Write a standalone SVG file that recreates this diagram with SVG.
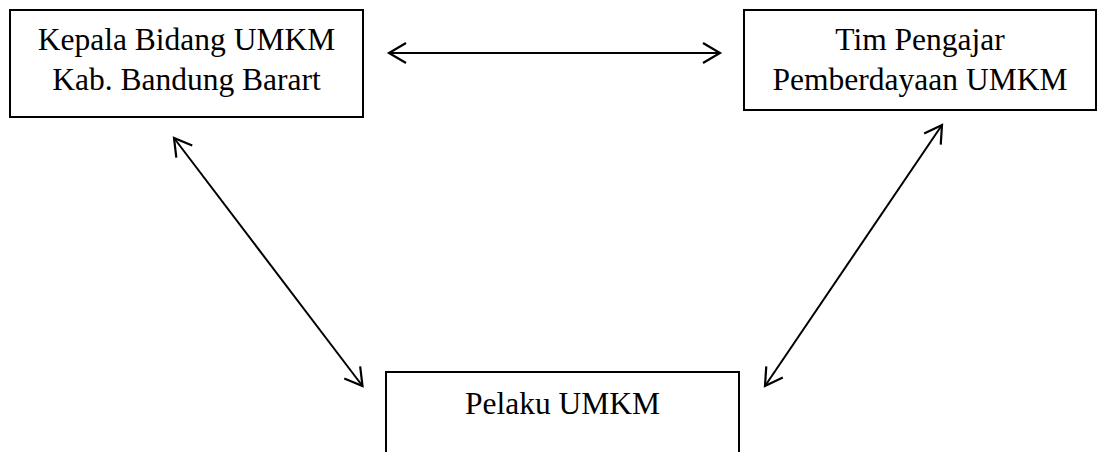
<svg xmlns="http://www.w3.org/2000/svg" width="1098" height="452" viewBox="0 0 1098 452">
<style>
.box{fill:#fff;stroke:#000;stroke-width:2}
.t{font-family:"Liberation Serif","Times New Roman",serif;font-size:31.5px;fill:#000;text-anchor:middle}
.c{stroke:#000;stroke-width:2;fill:none;marker-start:url(#ah);marker-end:url(#ah)}
</style>
<defs>
<marker id="ah" markerUnits="userSpaceOnUse" markerWidth="40" markerHeight="40" refX="0" refY="0" viewBox="-20 -20 40 40" orient="auto-start-reverse" overflow="visible">
<path d="M-17,-10 L0,0 L-17,10" fill="none" stroke="#000" stroke-width="2.2"/>
</marker>
</defs>
<rect width="1098" height="452" fill="#fff"/>
<g id="connectors">
<line class="c" x1="389" y1="53" x2="720" y2="53"/>
<line class="c" x1="174" y1="138" x2="362.5" y2="386"/>
<line class="c" x1="942" y1="125" x2="765" y2="386"/>
</g>
<g id="kepala">
<rect class="box" x="10" y="10" width="353" height="107"/>
<text class="t" x="186.5" y="50">Kepala Bidang UMKM</text>
<text class="t" x="186.5" y="90">Kab. Bandung Barart</text>
</g>
<g id="tim">
<rect class="box" x="744" y="10" width="352" height="100"/>
<text class="t" x="920" y="50">Tim Pengajar</text>
<text class="t" x="920" y="90">Pemberdayaan UMKM</text>
</g>
<g id="pelaku">
<rect class="box" x="386" y="372" width="353" height="100"/>
<text class="t" x="562.5" y="414">Pelaku UMKM</text>
</g>
</svg>
